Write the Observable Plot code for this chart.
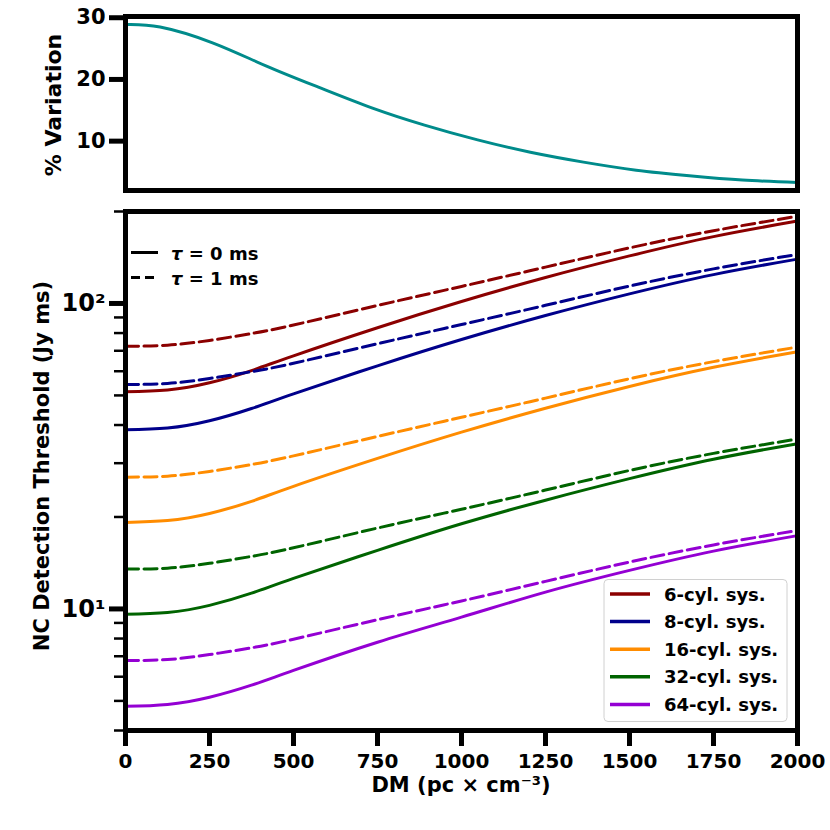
<!DOCTYPE html>
<html>
<head>
<meta charset="utf-8">
<script src="https://cdn.jsdelivr.net/npm/d3@7"></script>
<script src="https://cdn.jsdelivr.net/npm/@observablehq/plot@0.6"></script>
<style>
  html, body { margin: 0; padding: 0; background: #fff; }
  #wrap { position: relative; width: 830px; height: 830px; font-family: "DejaVu Sans", sans-serif; font-weight: bold; color: #000; }
  #wrap svg { position: absolute; left: 0; }
  .lbl { position: absolute; white-space: nowrap; font-size: 21px; font-weight: bold; }
  .rot { transform: translate(-50%, -50%) rotate(-90deg); }
</style>
</head>
<body>
<div id="wrap"></div>
<script>
// ---------------- data ----------------
const DM = [0, 125, 250, 375, 500, 750, 1000, 1250, 1500, 1750, 2000];
const systems = ["6-cyl. sys.", "8-cyl. sys.", "16-cyl. sys.", "32-cyl. sys.", "64-cyl. sys."];
const colors = ["#8b0000", "#00008b", "#ff8c00", "#006400", "#9400d3"];

// tau = 0 ms (solid)
const tau0_6  = [51.4, 52.1, 55.0, 60.3, 67.4, 83.3, 101.5, 121.6, 143.1, 165.5, 186.1];
const tau0_8  = [38.6, 39.1, 41.3, 45.3, 50.6, 62.5, 76.2, 91.3, 107.5, 124.3, 139.7];
const tau0_16 = [19.2, 19.46, 20.54, 22.5, 25.2, 31.1, 37.9, 45.4, 53.5, 61.8, 69.5];
const tau0_32 = [9.6, 9.73, 10.27, 11.26, 12.59, 15.55, 19.0, 22.7, 26.7, 30.9, 34.75];
const tau0_64 = [4.8, 4.87, 5.14, 5.63, 6.29, 7.78, 9.4, 11.35, 13.37, 15.46, 17.38];
// tau = 1 ms (dashed)
const tau1_6  = [72.4, 73.0, 75.7, 79.7, 85.0, 98.5, 113.7, 131.5, 152.0, 173.0, 192.9];
const tau1_8  = [54.3, 54.7, 56.8, 59.8, 63.7, 73.8, 85.3, 98.6, 114.0, 129.8, 144.7];
const tau1_16 = [27.0, 27.2, 28.2, 29.7, 31.7, 36.7, 42.4, 49.0, 56.7, 64.5, 72.0];
const tau1_32 = [13.5, 13.6, 14.1, 14.86, 15.85, 18.4, 21.2, 24.5, 28.4, 32.3, 36.0];
const tau1_64 = [6.78, 6.83, 7.09, 7.46, 7.96, 9.22, 10.62, 12.31, 14.24, 16.20, 18.07];

const tau0 = [tau0_6, tau0_8, tau0_16, tau0_32, tau0_64];
const tau1 = [tau1_6, tau1_8, tau1_16, tau1_32, tau1_64];

// % variation (top panel)
const varDM  = [0, 103, 261, 418, 576, 733, 890, 1048, 1205, 1363, 1520, 1678, 1836, 2000];
const varPct = [28.9, 28.5, 25.9, 22.2, 18.7, 15.4, 12.6, 10.2, 8.2, 6.6, 5.3, 4.4, 3.7, 3.3];

// ticks
const xTicks = [0, 250, 500, 750, 1000, 1250, 1500, 1750, 2000];
const topYTicks = [10, 20, 30];
const yMajor = [10, 100];
const yMajorLabels = ["10¹", "10²"];
const yMinor = [4, 5, 6, 7, 8, 9, 20, 30, 40, 50, 60, 70, 80, 90, 200];
const tauLabels = ["0", "1"];

// ---------------- tables ----------------
const solidRows = [], dashedRows = [];
systems.forEach((s, k) => {
  DM.forEach((d, i) => {
    solidRows.push({dm: d, v: tau0[k][i], sys: s, color: colors[k]});
    dashedRows.push({dm: d, v: tau1[k][i], sys: s, color: colors[k]});
  });
});
const varRows = varDM.map((d, i) => ({dm: d, v: varPct[i]}));

const wrap = document.getElementById("wrap");
const fontStyle = {fontFamily: "DejaVu Sans", fontWeight: "bold", fontSize: "20px", overflow: "visible", background: "transparent"};

// ---------------- top panel ----------------
const topPlot = Plot.plot({
  width: 830, height: 200,
  marginLeft: 125, marginRight: 33, marginTop: 16, marginBottom: 10,
  style: fontStyle,
  x: {domain: [0, 2000], axis: null},
  y: {domain: [2.0, 30.2]},
  marks: [
    Plot.line(varRows, {x: "dm", y: "v", stroke: "#008b8b", strokeWidth: 3, curve: "natural"}),
    Plot.frame({stroke: "black", strokeWidth: 5}),
    Plot.axisY({ticks: topYTicks, tickFormat: d3.format("d"), tickSize: 16, strokeWidth: 5, tickPadding: 4, fontSize: 21, label: null})
  ]
});
topPlot.style.top = "0px";
wrap.appendChild(topPlot);

// ---------------- bottom panel ----------------
const bottomPlot = Plot.plot({
  width: 830, height: 630,
  marginLeft: 125, marginRight: 33, marginTop: 11, marginBottom: 100,
  style: fontStyle,
  x: {domain: [0, 2000]},
  y: {type: "log", domain: [4, 200]},
  color: {type: "identity"},
  marks: [
    Plot.line(solidRows, {x: "dm", y: "v", z: "sys", stroke: "color", strokeWidth: 3, curve: "natural"}),
    Plot.line(dashedRows, {x: "dm", y: "v", z: "sys", stroke: "color", strokeWidth: 3, strokeDasharray: "13,5.5", curve: "natural"}),
    Plot.frame({stroke: "black", strokeWidth: 5}),
    Plot.axisX({ticks: xTicks, tickFormat: d3.format("d"), tickSize: 16, strokeWidth: 5, tickPadding: 7, fontSize: 20, label: null}),
    Plot.axisY({ticks: yMinor, tickFormat: () => "", tickSize: 11, strokeWidth: 2.5, label: null}),
    Plot.axisY({ticks: yMajor, tickFormat: d => yMajorLabels[yMajor.indexOf(d)], tickSize: 16, strokeWidth: 5, tickPadding: 4, fontSize: 24, label: null})
  ]
});
bottomPlot.style.top = "200px";
wrap.appendChild(bottomPlot);

// ---------------- axis labels ----------------
function addLabel(text, x, y, rot, size) {
  const d = document.createElement("div");
  d.className = "lbl" + (rot ? " rot" : "");
  d.innerHTML = text;
  d.style.left = x + "px";
  d.style.top = y + "px";
  if (size) d.style.fontSize = size + "px";
  if (!rot) d.style.transform = "translate(-50%, -50%)";
  wrap.appendChild(d);
}
addLabel("% Variation", 53, 105, true, 22);
addLabel("NC Detection Threshold (Jy ms)", 42, 466, true, 21);
addLabel("DM (pc × cm⁻³)", 461, 785, false, 21);

// ---------------- legends ----------------
const ns = "http://www.w3.org/2000/svg";
const leg = document.createElementNS(ns, "svg");
leg.setAttribute("width", 830);
leg.setAttribute("height", 830);
leg.style.top = "0px";
leg.style.position = "absolute";
leg.style.fontFamily = "DejaVu Sans";
leg.style.fontWeight = "bold";
function mk(tag, attrs, text) {
  const e = document.createElementNS(ns, tag);
  for (const k in attrs) e.setAttribute(k, attrs[k]);
  if (text != null) e.textContent = text;
  leg.appendChild(e);
  return e;
}
// tau legend
tauLabels.forEach((t, i) => {
  const y = 252.5 + i * 25;
  mk("line", {x1: 131, x2: 158, y1: y, y2: y, stroke: "black", "stroke-width": 3, "stroke-dasharray": i ? "9,5" : "none"});
  const tx = mk("text", {x: 171, y: y, "dominant-baseline": "central", "font-size": 18});
  const a = document.createElementNS(ns, "tspan"); a.setAttribute("font-style", "italic"); a.textContent = "τ"; tx.appendChild(a);
  const b = document.createElementNS(ns, "tspan"); b.textContent = " = " + t + " ms"; tx.appendChild(b);
});
// systems legend
mk("rect", {x: 604, y: 579.5, width: 183, height: 142, rx: 4, fill: "white", "fill-opacity": 0.85, stroke: "#d0d0d0", "stroke-width": 1});
systems.forEach((s, k) => {
  const y = 594 + k * 27.6;
  mk("line", {x1: 610, x2: 650, y1: y, y2: y, stroke: colors[k], "stroke-width": 3.5});
  mk("text", {x: 664, y: y, "dominant-baseline": "central", "font-size": 18}, s);
});
wrap.appendChild(leg);
</script>
</body>
</html>
